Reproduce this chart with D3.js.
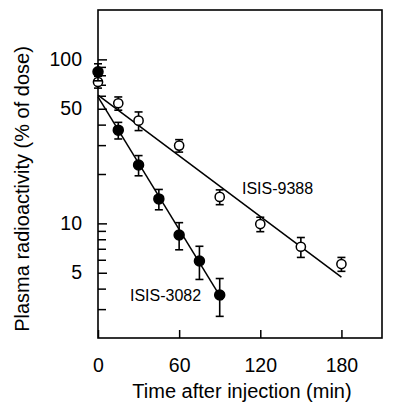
<!DOCTYPE html>
<html><head><meta charset="utf-8">
<script src="https://cdn.jsdelivr.net/npm/d3@7"></script>
<style>html,body{margin:0;padding:0;background:#fff;}svg{display:block;font-family:"Liberation Sans",Arial,Helvetica,sans-serif;}</style>
</head><body><div id="chart"></div>
<script>
// Data
const times3082 = [0, 15, 30, 45, 60, 75, 90];
const values3082 = [84, 37, 22.7, 14.1, 8.5, 5.9, 3.66];
const errors3082 = [10, 4.3, 3.2, 2, 1.6, 1.35, 0.95];
const times9388 = [0, 15, 30, 60, 90, 120, 150, 180];
const values9388 = [72.8, 54, 42.3, 29.8, 14.5, 9.9, 7.2, 5.65];
const errors9388 = [6, 5, 5.5, 2.6, 1.5, 1, 1, 0.55];
const fitTimes3082 = [0, 92];
const fitValues3082 = [59, 3.4];
const fitTimes9388 = [0, 180];
const fitValues9388 = [60.6, 4.7];
const xTickValues = [0, 60, 120, 180];
const yLabeledTicks = [5, 10, 50, 100];
const yMinorTicks = [3, 4, 6, 7, 8, 9, 20, 30, 40, 60, 70, 80, 90];
const seriesLabels = ["ISIS-3082", "ISIS-9388"];
const xTitle = "Time after injection (min)";
const yTitle = "Plasma radioactivity (% of dose)";

const W = 400, H = 418;
const m = {left: 98, top: 10, right: 18, bottom: 80};
const svg = d3.select("#chart").append("svg").attr("width", W).attr("height", H);
const x = d3.scaleLinear().domain([0, 210]).range([m.left, W - m.right]);
const y = d3.scaleLog().domain([2, 200]).range([H - m.bottom, m.top]);

// Frame
svg.append("rect").attr("x", x(0)).attr("y", y(200))
  .attr("width", x(210) - x(0)).attr("height", y(2) - y(200))
  .attr("fill", "none").attr("stroke", "#000").attr("stroke-width", 1.6);

// X axis ticks (inward)
const xAxis = d3.axisBottom(x).tickValues(xTickValues).tickSizeInner(-8).tickSizeOuter(0).tickPadding(20).tickFormat(d3.format("d"));
const gx = svg.append("g").attr("transform", `translate(0,${y(2)})`).call(xAxis);
gx.select(".domain").remove();
gx.selectAll("line").attr("stroke", "#000").attr("stroke-width", 1.5);
gx.selectAll("text").attr("font-size", 19.5).attr("fill", "#000").attr("font-family", null);

// Y axis labeled ticks
const yAxis = d3.axisLeft(y).tickValues(yLabeledTicks).tickSizeInner(-9).tickSizeOuter(0).tickPadding(16).tickFormat(d3.format("d"));
const gy = svg.append("g").attr("transform", `translate(${x(0)},0)`).call(yAxis);
gy.select(".domain").remove();
gy.selectAll("line").attr("stroke", "#000").attr("stroke-width", 1.5);
gy.selectAll("text").attr("font-size", 19.5).attr("fill", "#000").attr("font-family", null);

const yMinor = d3.axisLeft(y).tickValues(yMinorTicks).tickSizeInner(-8).tickSizeOuter(0).tickFormat("");
const gym = svg.append("g").attr("transform", `translate(${x(0)},0)`).call(yMinor);
gym.select(".domain").remove();
gym.selectAll("line").attr("stroke", "#000").attr("stroke-width", 1.5);

// Titles
svg.append("text").attr("x", (x(0) + x(210)) / 2 + 2).attr("y", 398)
  .attr("text-anchor", "middle").attr("font-size", 20).text(xTitle);
svg.append("text").attr("transform", `translate(29,${189}) rotate(-90)`)
  .attr("text-anchor", "middle").attr("font-size", 20).text(yTitle);

// Fit lines
const line = d3.line().x(d => x(d[0])).y(d => y(d[1]));
svg.append("path").datum(fitTimes3082.map((t, i) => [t, fitValues3082[i]]))
  .attr("d", line).attr("fill", "none").attr("stroke", "#000").attr("stroke-width", 1.5);
svg.append("path").datum(fitTimes9388.map((t, i) => [t, fitValues9388[i]]))
  .attr("d", line).attr("fill", "none").attr("stroke", "#000").attr("stroke-width", 1.5);

function drawSeries(times, values, errors, filled) {
  const data = times.map((t, i) => ({t, v: values[i], e: errors[i]}));
  const g = svg.append("g");
  const eb = g.selectAll("g.eb").data(data).join("g").attr("stroke", "#000").attr("stroke-width", 1.6);
  eb.append("line").attr("x1", d => x(d.t)).attr("x2", d => x(d.t))
    .attr("y1", d => y(d.v + d.e)).attr("y2", d => y(d.v - d.e));
  eb.append("line").attr("x1", d => x(d.t) - 4).attr("x2", d => x(d.t) + 4)
    .attr("y1", d => y(d.v + d.e)).attr("y2", d => y(d.v + d.e));
  eb.append("line").attr("x1", d => x(d.t) - 4).attr("x2", d => x(d.t) + 4)
    .attr("y1", d => y(d.v - d.e)).attr("y2", d => y(d.v - d.e));
  g.selectAll("circle").data(data).join("circle")
    .attr("cx", d => x(d.t)).attr("cy", d => y(d.v)).attr("r", filled ? 5 : 4.6)
    .attr("fill", filled ? "#000" : "#fff").attr("stroke", "#000").attr("stroke-width", 1.5);
}
drawSeries(times9388, values9388, errors9388, false);
drawSeries(times3082, values3082, errors3082, true);

// Series labels
svg.append("text").attr("x", 130).attr("y", 301).attr("font-size", 16).text(seriesLabels[0]);
svg.append("text").attr("x", 242).attr("y", 194).attr("font-size", 16).text(seriesLabels[1]);
</script></body></html>
